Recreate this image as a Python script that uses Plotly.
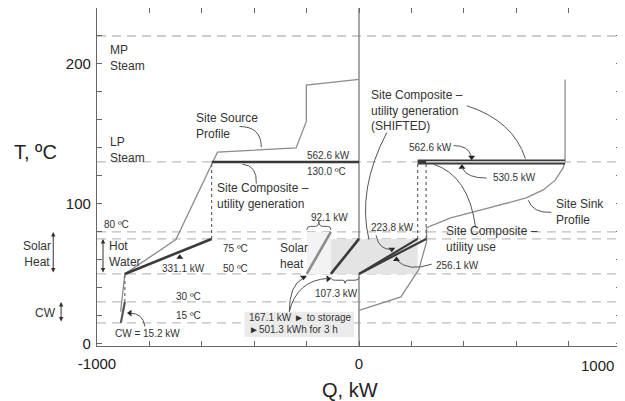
import plotly.graph_objects as go

# ---------------- data ----------------
# Site Source Profile (Q in kW, T in degC)
source_Q = [-910, -893.7, -699, -540, -240, -201, -201, 0]
source_T = [23, 50, 74.5, 137, 140, 159, 185, 189]

# Site Sink Profile
sink_Q = [0, 160, 228, 258, 258, 350, 467, 638, 703, 749, 779, 786.5, 786.5]
sink_T = [24, 33.6, 53, 73, 83, 90, 95.7, 104.3, 110, 117, 125.7, 130, 189]

# Site composite - utility generation (left side)
cw_Q = [-908.9, -893.7]
cw_T = [15, 30]
hw_Q = [-893.7, -562.6]
hw_T = [50, 75]
lp_gen_Q = [-562.6, 0]
lp_gen_T = [130, 130]

# Solar heat
solar_store_Q = [-199.4, -107.3]
solar_store_T = [50, 80]
solar_use_Q = [-107.3, 0]
solar_use_T = [50, 75]

# Shifted utility generation (right side)
gen_hw_Q = [0, 223.8]
gen_hw_T = [50, 75]
gen_lp_Q = [223.8, 786.4]
gen_lp_T = [130, 130]

# Site composite - utility use
use_hw_Q = [0, 256.1]
use_hw_T = [50, 75]
use_lp_Q = [256.1, 786.6]
use_lp_T = [130, 130]

# Temperature levels (dashed)
levels_T = [220, 130, 80, 75, 50, 30, 15]

# Axis ticks
x_tickvals = [-1000, -800, -600, -400, -200, 0, 200, 400, 600, 800, 1000]
x_ticktext = ["-1000", "", "", "", "", "0", "", "", "", "", ""]
y_tickvals = [0, 20, 40, 60, 80, 100, 120, 140, 160, 180, 200, 220, 240]
y_ticktext = ["0", "", "", "", "", "100", "", "", "", "", "200", "", ""]

FONT = "Liberation Sans, Arial, sans-serif"
TXT = "#333333"
DARK = "#3a3a3a"
GRAY = "#8c8c8c"

fig = go.Figure()


def line(x, y, color, width, dash=None):
    fig.add_trace(go.Scatter(x=x, y=y, mode="lines",
                             line=dict(color=color, width=width, dash=dash),
                             hoverinfo="skip", showlegend=False))


def marker(x, y, symbol, size=6):
    fig.add_trace(go.Scatter(x=[x], y=[y], mode="markers",
                             marker=dict(symbol=symbol, size=size, color="#222"),
                             hoverinfo="skip", showlegend=False))


def txt(x, y, s, size=12, xanchor="left", yanchor="middle", align="left", xref="x"):
    fig.add_annotation(x=x, y=y, xref=xref, yref="y", text=s, showarrow=False,
                       xanchor=xanchor, yanchor=yanchor, align=align,
                       font=dict(size=size, color=TXT, family=FONT))


def curve(x0, y0, cx, cy, x1, y1):
    fig.add_shape(type="path", xref="x", yref="y",
                  path=f"M {x0},{y0} Q {cx},{cy} {x1},{y1}",
                  line=dict(color="#555", width=1))


# shaded regions
fig.add_shape(type="rect", xref="x", yref="y", x0=solar_store_Q[0], x1=solar_store_Q[1],
              y0=50, y1=80, fillcolor="#f3f3f3", line=dict(width=0), layer="below")
fig.add_shape(type="rect", xref="x", yref="y", x0=solar_use_Q[0], x1=gen_hw_Q[1],
              y0=50, y1=75, fillcolor="#e4e4e4", line=dict(width=0), layer="below")
fig.add_shape(type="rect", xref="x", yref="y", x0=-437, x1=-19, y0=5, y1=23,
              fillcolor="#ebebeb", line=dict(width=0), layer="below")

# dashed level lines
for t in levels_T:
    fig.add_shape(type="line", xref="paper", yref="y", x0=0, x1=1, y0=t, y1=t,
                  line=dict(color="#bdbdbd", width=1.3, dash="9px,6px"), layer="below")

# Q = 0 line
fig.add_shape(type="line", xref="x", yref="paper", x0=0, x1=0, y0=0, y1=1,
              line=dict(color="#777", width=1.3), layer="below")

# profiles
line(source_Q, source_T, GRAY, 1.3)
line(sink_Q, sink_T, GRAY, 1.3)

# left composite
line([hw_Q[0], hw_Q[0]], [cw_T[1], hw_T[0]], "#666", 1.2, "dot")
line([lp_gen_Q[0], lp_gen_Q[0]], [hw_T[1], lp_gen_T[0]], "#666", 1.2, "dot")
line(cw_Q, cw_T, "#555", 2.2)
line(hw_Q, hw_T, DARK, 2.6)
line(lp_gen_Q, lp_gen_T, DARK, 2.6)

# solar heat
line(solar_store_Q, solar_store_T, GRAY, 2.6)
line(solar_use_Q, solar_use_T, DARK, 2.6)

# right side (shifted generation / utility use)
line([gen_hw_Q[1], gen_hw_Q[1]], [gen_hw_T[1], gen_lp_T[0]], "#666", 1.2, "dot")
line([use_hw_Q[1], use_hw_Q[1]], [use_hw_T[1], use_lp_T[0]], "#666", 1.2, "dot")
line(gen_hw_Q, gen_hw_T, DARK, 2.2)
line(use_hw_Q, use_hw_T, DARK, 2.2)
line(gen_lp_Q, gen_lp_T, DARK, 5)
line(use_lp_Q, use_lp_T, "#ffffff", 1.3)

# braces
fig.add_shape(type="path", xref="x", yref="y",
              path="M -199.4,81.5 Q -199.4,84 -185,84 L -166,84 Q -154,84 -153,87.5 "
                   "Q -152,84 -140,84 L -120,84 Q -107.3,84 -107.3,81.5",
              line=dict(color="#555", width=1))
fig.add_shape(type="path", xref="x", yref="y",
              path="M -107.3,47.5 Q -107.3,45.5 -90,45.5 L -62,45.5 Q -54,45.5 -53,43.3 "
                   "Q -52,45.5 -44,45.5 L -15,45.5 Q 0,45.5 0,47.5",
              line=dict(color="#555", width=1))

# leader curves
curve(-456, 155.3, -373, 155.3, -373, 140.5)      # Site Source Profile
curve(-445, 128.4, -388, 127.5, -392, 114.5)      # Site Composite - utility generation
curve(-874, 22, -825, 22, -817, 12.5)             # CW
curve(-266, 23, -266, 42, -214, 46.8)             # solar -> storage
curve(-266, 23, -236, 45.6, -118, 46.8)           # solar -> storage
curve(65, 77.6, 76, 67, 125, 67.5)                # 223.8 kW
curve(278, 57, 190, 51.3, 143, 59.8)              # 256.1 kW
curve(445, 83.3, 418, 120.4, 285, 128.3)          # utility use
curve(487, 118.5, 411, 118.5, 395, 125.5)         # 530.5 kW
curve(361, 141.7, 418, 141.7, 428, 134.2)         # 562.6 kW right
curve(411, 170.2, 589, 159.5, 635, 132.3)         # SHIFTED -> 130 line
curve(106, 151, -8, 110, 38, 74.5)                # SHIFTED -> hot water
curve(646, 102.6, 665, 93.3, 734, 94)             # Site Sink Profile

# small arrowheads
marker(-684, 62, "triangle-up", 6)
marker(-212, 47.6, "triangle-down", 6)
marker(-118, 46.6, "triangle-right", 6)
marker(-874, 22, "triangle-left", 6)
marker(125, 67.6, "triangle-down", 6)
marker(143, 60.3, "triangle-up", 6)
marker(430, 133.4, "triangle-down", 6)
marker(393, 126.2, "triangle-up", 6)

# vertical double arrows (outside / near left axis)
for xp, t_top, t_bot in [(-0.0835, 80, 50), (-0.0685, 30, 15), ((-977 + 1000) / 2000, 75, 50)]:
    fig.add_annotation(x=xp, y=t_top, xref="paper", yref="y", ax=0, ay=t_bot,
                       axref="pixel", ayref="y", showarrow=True, text="",
                       arrowhead=2, arrowside="end+start", arrowsize=0.9,
                       arrowwidth=1, arrowcolor="#333")

# text labels
txt(-958, 204.4, "MP<br>Steam")
txt(-958, 138.2, "LP<br>Steam")
txt(-631, 156, "Site Source<br>Profile")
txt(-205, 134.8, "562.6 kW", 10)
txt(-205, 123.5, "130.0 ºC", 10)
txt(-548, 105.7, "Site Composite –<br>utility generation")
txt(-981, 85.5, "80 ºC", 10)
txt(-0.114, 64.1, "Solar<br>Heat", xanchor="center", align="center", xref="paper")
txt(-962, 64.1, "Hot<br>Water")
txt(-471, 68.4, "75 ºC", 10, xanchor="center")
txt(-471, 54, "50 ºC", 10, xanchor="center")
txt(-669, 54, "331.1 kW", 10, xanchor="center")
txt(-650, 34.2, "30 ºC", 10, xanchor="center")
txt(-650, 20, "15 ºC", 10, xanchor="center")
txt(-0.099, 22, "CW", xanchor="center", align="center", xref="paper")
txt(-808, 7.1, "CW = 15.2 kW", 10, xanchor="center")
txt(-308, 62.7, "Solar<br>heat")
txt(-114, 90.5, "92.1 kW", 10, xanchor="center")
txt(-87, 36.3, "107.3 kW", 10, xanchor="center")
txt(-428, 19.2, "167.1 kW ► to storage", 10)
txt(-428, 10.6, "►501.3 kWh for 3 h", 10)
txt(38, 83.3, "223.8 kW", 10)
txt(285, 56.3, "256.1 kW", 10)
txt(323, 74.8, "Site Composite –<br>utility use")
txt(745, 94.3, "Site Sink<br>Profile")
txt(502, 119, "530.5 kW", 10)
txt(183, 140.3, "562.6 kW", 10)
txt(38, 166.7, "Site Composite –<br>utility generation<br>(SHIFTED)")

# right-end x tick label (kept inside the picture)
fig.add_annotation(x=1.0, y=-1.5, xref="paper", yref="y", text="1000", showarrow=False,
                   xanchor="right", yanchor="top", yshift=-9, xshift=-5,
                   font=dict(size=15, color="#222", family=FONT))

# axis titles
fig.add_annotation(x=-0.118, y=0.574, xref="paper", yref="paper", text="T, ºC",
                   xanchor="center", yanchor="middle", showarrow=False,
                   font=dict(size=20, color="#222", family=FONT))
fig.add_annotation(x=0.483, y=-0.13, xref="paper", yref="paper", text="Q, kW",
                   xanchor="center", yanchor="middle", showarrow=False,
                   font=dict(size=20, color="#222", family=FONT))

axis_common = dict(showline=True, linecolor="#666", linewidth=1.2, mirror="ticks",
                   ticks="inside", ticklen=5, tickcolor="#666", tickwidth=1,
                   showgrid=False, zeroline=False,
                   tickfont=dict(size=15, color="#222", family=FONT))

fig.update_layout(
    width=617, height=393,
    margin=dict(l=89, r=4, t=0, b=55),
    paper_bgcolor="white", plot_bgcolor="white",
    font=dict(family=FONT, color=TXT),
    showlegend=False,
    xaxis=dict(range=[-1000, 1000], tickmode="array", tickvals=x_tickvals,
               ticktext=x_ticktext, ticklabelstandoff=4, **axis_common),
    yaxis=dict(range=[-1.5, 240], tickmode="array", tickvals=y_tickvals,
               ticktext=y_ticktext, ticklabelstandoff=2, **axis_common),
)

fig.write_html("out.html")
